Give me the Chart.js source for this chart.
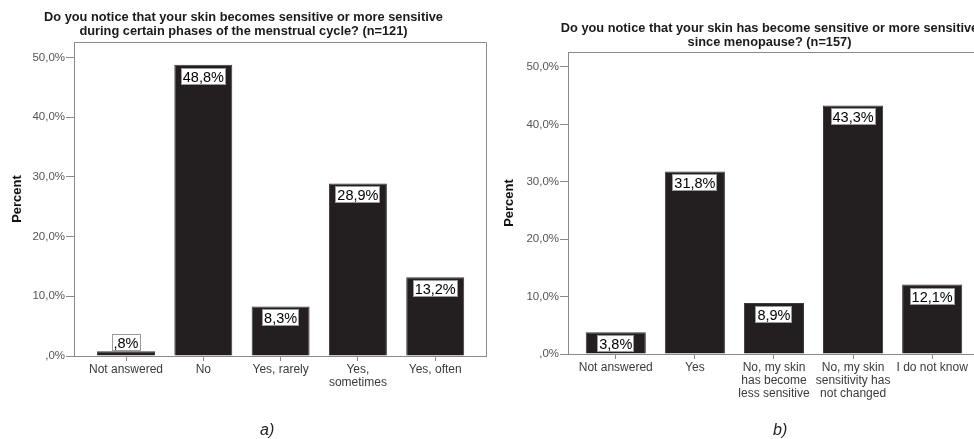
<!DOCTYPE html>
<html>
<head>
<meta charset="utf-8">
<script src="https://cdn.jsdelivr.net/npm/chart.js@4.4.1/dist/chart.umd.min.js"></script>
<style>
  html, body { margin: 0; padding: 0; background: #fff; overflow: hidden; }
  #page { position: relative; width: 974px; height: 439px; overflow: hidden; }
  .panel { position: absolute; top: 0; }
  .caption { position: absolute; top: 421px; line-height: 18px; font: italic 16px "Liberation Sans", Arial, sans-serif; color: #222; }
</style>
</head>
<body>
<div id="page">
  <canvas id="chartA" class="panel" width="487" height="439" style="left:0"></canvas>
  <canvas id="chartB" class="panel" width="565" height="439" style="left:487px"></canvas>
  <div class="caption" style="left:260px">a)</div>
  <div class="caption" style="left:773px">b)</div>
</div>
<script>
// data
const titleA = ["Do you notice that your skin becomes sensitive or more sensitive", "during certain phases of the menstrual cycle? (n=121)"];
const categoriesA = ["Not answered", "No", "Yes, rarely", ["Yes,", "sometimes"], "Yes, often"];
const percentA = [0.8, 48.8, 8.3, 28.9, 13.2];

const titleB = ["Do you notice that your skin has become sensitive or more sensitive", "since menopause? (n=157)"];
const categoriesB = ["Not answered", "Yes", ["No, my skin", "has become", "less sensitive"], ["No, my skin", "sensitivity has", "not changed"], "I do not know"];
const percentB = [3.8, 31.8, 8.9, 43.3, 12.1];

const yAxisTitle = "Percent";
const FONT = "'Liberation Sans', Arial, sans-serif";
const GREY = "#8a8a8a";

// SPSS style: 48,8%  and ,8%
function formatPercent(v) {
  return v.toFixed(1).replace(".", ",").replace(/^0/, "") + "%";
}

// white boxes with the value at the top of each bar
const valueLabels = {
  id: "valueLabels",
  afterDatasetsDraw(chart) {
    const ctx = chart.ctx;
    const meta = chart.getDatasetMeta(0);
    const values = chart.data.datasets[0].data;
    ctx.save();
    ctx.font = "14.5px " + FONT;
    ctx.textAlign = "center";
    ctx.textBaseline = "middle";
    meta.data.forEach(function (bar, i) {
      const text = formatPercent(values[i].y);
      const w = Math.round(ctx.measureText(text).width + 4);
      const h = 17;
      let top = Math.round(bar.y) + 3;
      if (bar.base - bar.y < h + 4) top = Math.round(bar.y) - h;
      const left = Math.round(bar.x - w / 2);
      ctx.fillStyle = "#fff";
      ctx.fillRect(left, top, w, h);
      ctx.strokeStyle = "#9a9a9a";
      ctx.lineWidth = 1;
      ctx.strokeRect(left + 0.5, top + 0.5, w - 1, h - 1);
      ctx.fillStyle = "#000";
      ctx.fillText(text, bar.x, top + h / 2 + 1);
    });
    ctx.restore();
  }
};

// top and right side of the box around the plot
const frame = {
  id: "frame",
  beforeDatasetsDraw(chart) {
    const a = chart.chartArea;
    const ctx = chart.ctx;
    ctx.save();
    ctx.strokeStyle = GREY;
    ctx.lineWidth = 1;
    ctx.beginPath();
    ctx.moveTo(a.left, Math.round(a.top) + 0.5);
    ctx.lineTo(Math.round(a.right) - 0.5, Math.round(a.top) + 0.5);
    ctx.lineTo(Math.round(a.right) - 0.5, a.bottom);
    ctx.stroke();
    ctx.restore();
  }
};

function makeChart(id, title, categories, values, g) {
  const ctx = document.getElementById(id).getContext("2d");
  return new Chart(ctx, {
    type: "bar",
    data: {
      datasets: [
        {
          data: values.map(function (v, i) { return { x: i, y: v }; }),
          backgroundColor: "#231f20",
          borderColor: "#3c3a3b",
          borderWidth: 1,
          categoryPercentage: 1,
          barPercentage: g.barPct,
        },
      ],
    },
    options: {
      responsive: false,
      animation: false,
      devicePixelRatio: 1,
      layout: { padding: { left: 0, right: g.padRight, top: 0, bottom: 0 } },
      plugins: {
        legend: { display: false },
        tooltip: { enabled: false },
        title: {
          display: true,
          text: title,
          color: "#1a1a1a",
          font: { family: FONT, size: 12.8, weight: "bold", lineHeight: 14 / 12.8 },
          padding: { top: g.titleTop, bottom: g.titleBottom },
        },
      },
      scales: {
        x: {
          type: "linear",
          bounds: "data",
          offset: false,
          min: g.xMin,
          max: g.xMax,
          afterFit: function (s) { s.height = g.xHeight; },
          // one tick per category, at the bar centres
          afterBuildTicks: function (s) {
            s.ticks = categories.map(function (c, i) { return { value: i }; });
          },
          grid: { offset: false, drawOnChartArea: false, drawTicks: true, tickLength: 5, color: GREY },
          border: { display: true, color: GREY, width: 1 },
          ticks: {
            autoSkip: false,
            maxRotation: 0,
            padding: 2,
            color: "#3a3a3a",
            font: { family: FONT, size: 12, lineHeight: 1.08 },
            callback: function (v) { return categories[v]; },
          },
        },
        y: {
          min: 0,
          max: 52.6,
          afterFit: function (s) { s.width = g.yWidth; },
          grid: { drawOnChartArea: false, drawTicks: true, tickLength: 8, color: GREY },
          border: { display: true, color: GREY, width: 1 },
          ticks: {
            stepSize: 10,
            includeBounds: false,
            padding: 1,
            color: "#555",
            font: { family: FONT, size: 11.5 },
            callback: function (v) { return formatPercent(v); },
          },
          title: {
            display: true,
            text: yAxisTitle,
            color: "#111",
            font: { family: FONT, size: 13, weight: "bold" },
            padding: { top: g.yTitlePad, bottom: 0 },
          },
        },
      },
    },
    plugins: [frame, valueLabels],
  });
}

makeChart("chartA", titleA, categoriesA, percentA, {
  padRight: 0, titleTop: 10, titleBottom: 4, xHeight: 83, yWidth: 74, yTitlePad: 10,
  xMin: -0.673, xMax: 4.67, barPct: 0.75,
});
makeChart("chartB", titleB, categoriesB, percentB, {
  padRight: 0, titleTop: 21, titleBottom: 3, xHeight: 85, yWidth: 81, yTitlePad: 15,
  xMin: -0.604, xMax: 5.515, barPct: 0.76,
});
</script>
</body>
</html>
